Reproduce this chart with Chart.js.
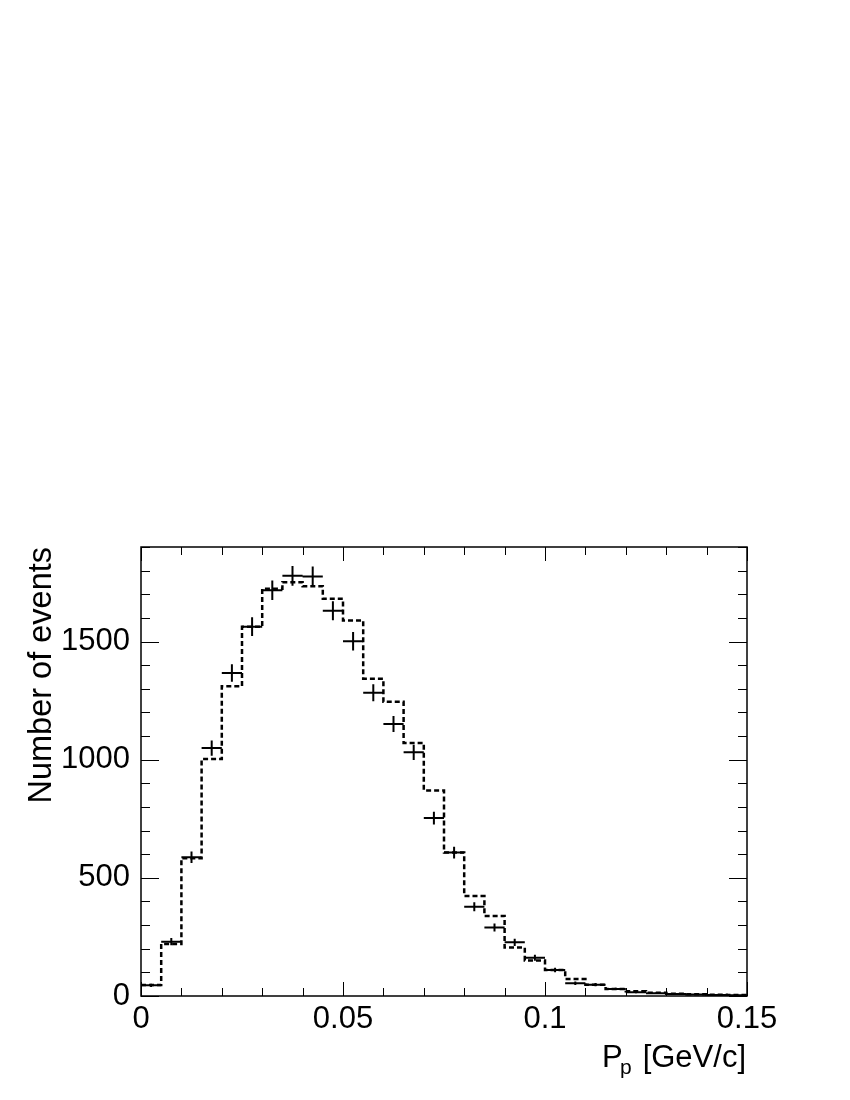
<!DOCTYPE html>
<html>
<head>
<meta charset="utf-8">
<script src="https://cdn.jsdelivr.net/npm/chart.js@4"></script>
<style>
  html, body { margin: 0; padding: 0; background: #fff; }
  canvas { display: block; }
</style>
</head>
<body>
<canvas id="histChart" width="850" height="1100"></canvas>
<script>
// ---- data ----
const binCenters = [0.0025, 0.0075, 0.0125, 0.0175, 0.0225, 0.0275, 0.0325, 0.0375, 0.0425, 0.0475,
                    0.0525, 0.0575, 0.0625, 0.0675, 0.0725, 0.0775, 0.0825, 0.0875, 0.0925, 0.0975,
                    0.1025, 0.1075, 0.1125, 0.1175, 0.1225, 0.1275, 0.1325, 0.1375, 0.1425, 0.1475];
const binHalfWidth = 0.0025;

// dashed histogram (simulation)
const simCounts = [47, 220, 583, 1003, 1311, 1562, 1723, 1751, 1734, 1681,
                   1589, 1343, 1245, 1071, 870, 607, 423, 339, 205, 150,
                   110, 72, 48, 30, 20, 14, 10, 7, 5, 4];

// crosses (data)
const dataCounts = [45, 230, 587, 1049, 1367, 1563, 1717, 1778, 1775, 1630,
                    1501, 1283, 1151, 1031, 753, 607, 378, 290, 227, 162,
                    110, 54, 48, 30, 16, 12, 8, 6, 4, 3];
const dataErrors = [7, 15, 24, 32, 37, 40, 41, 42, 42, 40,
                    39, 36, 34, 32, 27, 25, 19, 17, 15, 13,
                    10, 7, 7, 5, 4, 3, 3, 2, 2, 2];

const xTickLabels = [0, 0.05, 0.1, 0.15];
const yTickLabels = [0, 500, 1000, 1500];

// ---- build line data ----
const histPoints = [];
binCenters.forEach((c, i) => {
    histPoints.push({ x: c - binHalfWidth, y: simCounts[i] });
    histPoints.push({ x: c + binHalfWidth, y: simCounts[i] });
});

const hBars = [];
const vBars = [];
binCenters.forEach((c, i) => {
    hBars.push({ x: c - binHalfWidth, y: dataCounts[i] });
    hBars.push({ x: c + binHalfWidth, y: dataCounts[i] });
    hBars.push({ x: c, y: null });
    vBars.push({ x: c, y: dataCounts[i] - dataErrors[i] });
    vBars.push({ x: c, y: dataCounts[i] + dataErrors[i] });
    vBars.push({ x: c, y: null });
});

const FONT = '"Liberation Sans", Arial, Helvetica, sans-serif';

// frame, inward ticks on all four sides, and axis titles (ROOT style)
const rootFrame = {
    id: 'rootFrame',
    afterDraw(chart) {
        const ctx = chart.ctx;
        const a = chart.chartArea;
        const xs = chart.scales.x, ys = chart.scales.y;
        ctx.save();
        ctx.strokeStyle = '#000';
        ctx.lineWidth = 1;
        ctx.beginPath();
        // x ticks every 0.01, major every 0.05
        for (let k = 0; k <= 15; k++) {
            const px = Math.round(xs.getPixelForValue(k * 0.01)) + 0.5;
            const len = (k % 5 === 0) ? 14 : 8;
            ctx.moveTo(px, a.bottom); ctx.lineTo(px, a.bottom - len);
            ctx.moveTo(px, a.top); ctx.lineTo(px, a.top + len);
        }
        // y ticks every 100, major every 500
        for (let k = 0; k <= 19; k++) {
            const py = Math.round(ys.getPixelForValue(k * 100)) + 0.5;
            const len = (k % 5 === 0) ? 18 : 9;
            ctx.moveTo(a.left, py); ctx.lineTo(a.left + len, py);
            ctx.moveTo(a.right, py); ctx.lineTo(a.right - len, py);
        }
        ctx.stroke();
        ctx.lineWidth = 1.5;
        ctx.strokeRect(a.left, a.top, a.right - a.left, a.bottom - a.top);

        // y title, right-aligned to top of axis
        ctx.fillStyle = '#000';
        ctx.font = '32.5px ' + FONT;
        ctx.save();
        ctx.translate(51, a.top);
        ctx.rotate(-Math.PI / 2);
        ctx.textAlign = 'right';
        ctx.textBaseline = 'alphabetic';
        ctx.fillText('Number of events', 0, 0);
        ctx.restore();

        // x title with subscript, right-aligned to end of axis
        const base = 1067;
        ctx.textBaseline = 'alphabetic';
        ctx.font = '31px ' + FONT;
        ctx.textAlign = 'right';
        ctx.fillText('[GeV/c]', a.right - 1, base);
        ctx.textAlign = 'left';
        ctx.fillText('P', 602, base);
        ctx.font = '21px ' + FONT;
        ctx.fillText('p', 620, base + 7);
        ctx.restore();
    }
};

new Chart(document.getElementById('histChart').getContext('2d'), {
    type: 'line',
    data: {
        datasets: [
            { label: 'sim', data: histPoints, borderColor: '#000', borderWidth: 2.5, borderDash: [5, 3],
              pointRadius: 0, tension: 0, fill: false },
            { label: 'xerr', data: hBars, borderColor: '#000', borderWidth: 2,
              pointRadius: 0, tension: 0, spanGaps: false, fill: false },
            { label: 'yerr', data: vBars, borderColor: '#000', borderWidth: 2,
              pointRadius: 0, tension: 0, spanGaps: false, fill: false }
        ]
    },
    options: {
        responsive: false,
        animation: false,
        devicePixelRatio: 1,
        layout: { padding: { left: 0, right: 103, top: 547, bottom: 0 } },
        plugins: { legend: { display: false }, tooltip: { enabled: false } },
        scales: {
            x: {
                type: 'linear', min: 0, max: 0.15,
                grid: { display: false, drawTicks: false },
                border: { display: false },
                afterBuildTicks: s => { s.ticks = xTickLabels.map(v => ({ value: v })); },
                afterFit: s => { s.height = 104; },
                ticks: { color: '#000', padding: 5, maxRotation: 0, autoSkip: false,
                         font: { family: FONT, size: 31 }, callback: v => String(v) }
            },
            y: {
                type: 'linear', min: 0, max: 1900,
                grid: { display: false, drawTicks: false },
                border: { display: false },
                afterBuildTicks: s => { s.ticks = yTickLabels.map(v => ({ value: v })); },
                afterFit: s => { s.width = 141; },
                ticks: { color: '#000', padding: 11, autoSkip: false,
                         font: { family: FONT, size: 31 }, callback: v => String(v) }
            }
        }
    },
    plugins: [rootFrame]
});
</script>
</body>
</html>
